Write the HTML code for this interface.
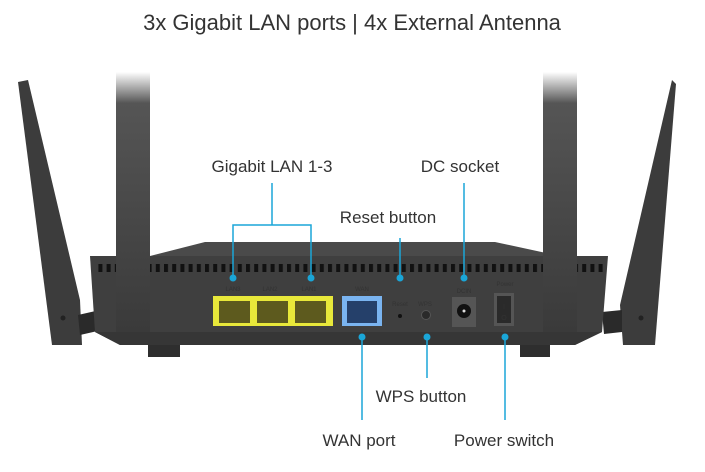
<!DOCTYPE html>
<html><head><meta charset="utf-8"><style>
html,body{margin:0;padding:0;background:#fff;}
svg{display:block}
text{font-family:"Liberation Sans",sans-serif;fill:#333;}
</style></head><body>
<svg width="705" height="472" viewBox="0 0 705 472" xmlns="http://www.w3.org/2000/svg">
<defs>
<linearGradient id="ant" x1="0" y1="0" x2="0" y2="1">
<stop offset="0" stop-color="#fff"/><stop offset="0.12" stop-color="#555"/><stop offset="1" stop-color="#3a3a3a"/>
</linearGradient>
<pattern id="vent" x="0" y="0" width="8.2" height="12" patternUnits="userSpaceOnUse">
<rect x="0" y="0" width="4" height="10" fill="#111"/>
</pattern>
</defs>
<text x="352" y="30" font-size="22" text-anchor="middle" fill="#333">3x Gigabit LAN ports | 4x External Antenna</text>

<polygon points="18,82 28,80 80,300 82,345 52,345" fill="#3c3c3c"/>
<polygon points="78,315 100,310 102,330 80,335" fill="#2a2a2a"/>
<circle cx="63" cy="318" r="2.5" fill="#222"/>
<polygon points="672,80 676,84 655,345 623,345 620,305" fill="#3c3c3c"/>
<polygon points="602,312 622,310 622,332 604,334" fill="#2a2a2a"/>
<circle cx="641" cy="318" r="2.5" fill="#222"/>

<rect x="148" y="340" width="32" height="17" fill="#2e2e2e"/>
<rect x="520" y="340" width="30" height="17" fill="#2e2e2e"/>

<polygon points="205,242 495,242 560,256 150,256" fill="#4a4a4a"/>
<polygon points="90,256 608,256 602,332 575,345 120,345 95,332" fill="#3f3f3f"/>
<polygon points="95,332 602,332 575,345 120,345" fill="#363636"/>
<rect x="98" y="262" width="505" height="10" fill="url(#vent)"/>

<rect x="116" y="72" width="34" height="260" fill="url(#ant)"/>
<rect x="543" y="72" width="34" height="260" fill="url(#ant)"/>

<g font-size="6" text-anchor="middle">
<text x="233" y="291" fill="#aaa">LAN3</text><text x="270" y="291" fill="#aaa">LAN2</text><text x="309" y="291" fill="#aaa">LAN1</text>
<text x="362" y="291" fill="#aaa">WAN</text><text x="400" y="306" fill="#aaa">Reset</text><text x="425" y="306" fill="#aaa">WPS</text>
<text x="464" y="293" fill="#aaa">DCIN</text><text x="505" y="286" fill="#aaa">Power</text>
</g>
<rect x="213" y="296" width="120" height="30" fill="#e8e83a"/>
<rect x="219" y="301" width="31" height="22" fill="#5d5a1e"/>
<rect x="257" y="301" width="31" height="22" fill="#5d5a1e"/>
<rect x="295" y="301" width="31" height="22" fill="#5d5a1e"/>
<rect x="342" y="296" width="40" height="30" fill="#7ab4f0"/>
<rect x="347" y="301" width="30" height="22" fill="#25406a"/>
<circle cx="400" cy="316" r="2" fill="#111"/>
<circle cx="426" cy="315" r="4.5" fill="#2a2a2a" stroke="#555"/>
<rect x="452" y="297" width="24" height="30" fill="#555"/>
<circle cx="464" cy="311" r="7" fill="#111"/><circle cx="464" cy="311" r="1.5" fill="#ddd"/>
<rect x="494" y="293" width="20" height="33" fill="#555"/>
<rect x="497" y="296" width="14" height="27" fill="#2a2a2a"/>
<text x="504" y="309" font-size="7" fill="#ccc" text-anchor="middle">I</text>
<text x="504" y="320" font-size="7" fill="#ccc" text-anchor="middle">O</text>

<g stroke="#1aa6d8" stroke-width="1.5" fill="none">
<polyline points="233,278 233,225 311,225 311,278"/>
<line x1="272" y1="183" x2="272" y2="225"/>
<line x1="400" y1="238" x2="400" y2="278"/>
<line x1="464" y1="183" x2="464" y2="278"/>
<line x1="362" y1="337" x2="362" y2="420"/>
<line x1="427" y1="337" x2="427" y2="378"/>
<line x1="505" y1="337" x2="505" y2="420"/>
</g>
<g fill="#1aa6d8">
<circle cx="233" cy="278" r="3.5"/><circle cx="311" cy="278" r="3.5"/>
<circle cx="400" cy="278" r="3.5"/><circle cx="464" cy="278" r="3.5"/>
<circle cx="362" cy="337" r="3.5"/><circle cx="427" cy="337" r="3.5"/><circle cx="505" cy="337" r="3.5"/>
</g>
<g font-size="17">
<text x="272" y="172" text-anchor="middle">Gigabit LAN 1-3</text>
<text x="460" y="172" text-anchor="middle">DC socket</text>
<text x="388" y="223" text-anchor="middle">Reset button</text>
<text x="421" y="402" text-anchor="middle">WPS button</text>
<text x="359" y="446" text-anchor="middle">WAN port</text>
<text x="504" y="446" text-anchor="middle">Power switch</text>
</g>
</svg>
</body></html>
